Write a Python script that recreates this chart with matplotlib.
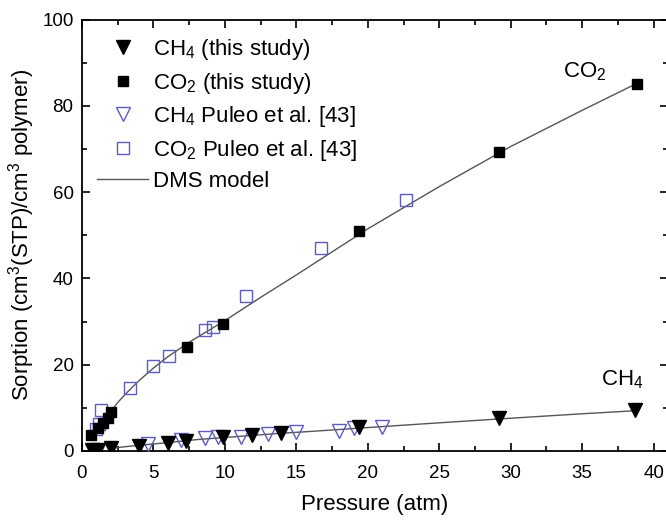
import matplotlib
matplotlib.use("Agg")
from matplotlib import pyplot as plt
from matplotlib.ticker import MultipleLocator

plt.rcParams['font.family'] = ['Liberation Sans', 'DejaVu Sans']
plt.rcParams['mathtext.fontset'] = 'custom'
plt.rcParams['mathtext.rm'] = 'Liberation Sans'
plt.rcParams['mathtext.it'] = 'Liberation Sans:italic'

# CH4 sorption, this study
ch4_p = [0.7, 1.1, 2.05, 4.0, 6.0, 7.3, 9.85, 11.9, 13.9, 19.4, 29.2, 38.7]
ch4_c = [0.2, 0.3, 0.6, 1.2, 1.8, 2.3, 3.1, 3.7, 4.1, 5.6, 7.6, 9.5]
# CO2 sorption, this study
co2_p = [0.65, 1.1, 1.45, 1.8, 2.05, 7.35, 9.85, 19.4, 29.2, 38.8]
co2_c = [3.7, 5.3, 6.4, 7.6, 9.1, 24.0, 29.4, 51.0, 69.3, 85.2]
# Puleo et al. [43]
pu_ch4_p = [4.6, 6.95, 8.6, 9.5, 11.1, 13.0, 15.0, 18.0, 19.0, 21.0]
pu_ch4_c = [1.55, 2.55, 2.9, 3.1, 3.3, 3.85, 4.3, 4.6, 5.3, 5.6]
pu_co2_p = [1.0, 1.2, 1.35, 3.36, 5.0, 6.08, 8.6, 9.2, 11.5, 16.7, 22.7]
pu_co2_c = [5.0, 6.2, 9.4, 14.5, 19.6, 21.9, 28.1, 28.8, 36.0, 47.1, 58.2]
# DMS model curves
dms_co2_p = [2.0, 2.5, 3.0, 3.5, 4.0, 5.0, 6.0, 7.5, 10.0, 12.5, 15.0, 20.0, 25.0, 30.0, 35.0, 38.8]
dms_co2_c = [9.0, 11.2, 13.0, 14.7, 16.3, 19.2, 21.8, 25.2, 30.2, 35.6, 40.8, 51.5, 61.3, 70.6, 79.0, 85.2]
dms_ch4_p = [2.0, 4.0, 6.0, 8.0, 10.0, 12.0, 14.0, 16.0, 20.0, 25.0, 29.2, 35.0, 38.7]
dms_ch4_c = [0.6, 1.3, 1.9, 2.6, 3.1, 3.6, 4.1, 4.5, 5.4, 6.5, 7.4, 8.6, 9.3]

blue = '#5c5cc4'

fig = plt.figure(figsize=(6.66, 5.2), dpi=100)
ax = fig.add_axes([0.123, 0.133, 0.880, 0.829])

ax.plot(ch4_p, ch4_c, 'v', color='black', ms=9.5, label='CH$_4$ (this study)', zorder=4)
ax.plot(co2_p, co2_c, 's', color='black', ms=7.5, label='CO$_2$ (this study)', zorder=4)
ax.plot(pu_ch4_p, pu_ch4_c, 'v', mfc='none', mec=blue, mew=1.0, ms=9.5,
        label='CH$_4$ Puleo et al. [43]', zorder=3)
ax.plot(pu_co2_p, pu_co2_c, 's', mfc='none', mec=blue, mew=1.0, ms=8.5,
        label='CO$_2$ Puleo et al. [43]', zorder=3)
ax.plot(dms_co2_p, dms_co2_c, '-', color='#555555', lw=1.0, label='DMS model', zorder=2)
ax.plot(dms_ch4_p, dms_ch4_c, '-', color='#555555', lw=1.0, zorder=2)

ax.text(35.2, 88, 'CO$_2$', fontsize=16, ha='center', va='center')
ax.text(37.8, 16.5, 'CH$_4$', fontsize=16, ha='center', va='center')

ax.set_xlim(0, 41.0)
ax.set_ylim(0, 100)
ax.xaxis.set_major_locator(MultipleLocator(5))
ax.xaxis.set_minor_locator(MultipleLocator(2.5))
ax.yaxis.set_major_locator(MultipleLocator(20))
ax.yaxis.set_minor_locator(MultipleLocator(10))
ax.tick_params(which='both', direction='in', top=True, right=True, labelsize=13.5, width=1.2)
ax.tick_params(which='major', length=6, pad=6)
ax.tick_params(which='minor', length=3.5)
ax.tick_params(axis='x', which='major', pad=10)
for s in ax.spines.values():
    s.set_linewidth(1.3)

ax.set_xlabel('Pressure (atm)', fontsize=16, labelpad=9)
ax.set_ylabel('Sorption (cm$^3$(STP)/cm$^3$ polymer)', fontsize=16)

ax.legend(loc='upper left', bbox_to_anchor=(-0.008, 1.006), frameon=False, fontsize=16,
          handlelength=2.3, handletextpad=0.2, labelspacing=0.38, numpoints=1)

fig.savefig('out.png', dpi=100)
